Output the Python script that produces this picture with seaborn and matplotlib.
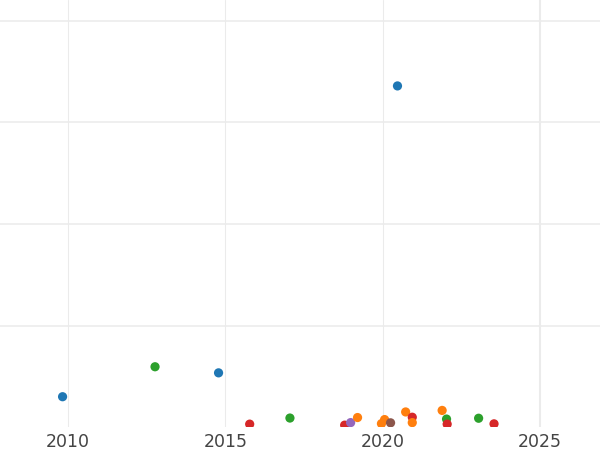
import matplotlib
matplotlib.use('Agg')
import matplotlib.pyplot as plt
import seaborn as sns
import pandas as pd

# Données (année, valeur, groupe)
years = [2009.82, 2012.76, 2014.78, 2020.47, 2015.77, 2017.05, 2018.79, 2018.98,
         2019.20, 2019.96, 2020.06, 2020.25, 2020.73, 2020.94, 2020.94, 2021.89,
         2022.03, 2022.05, 2023.05, 2023.54]
values = [30, 59.5, 53.5, 336, 3, 9, 2, 4.5,
          9.5, 3.5, 7.5, 4.3, 15, 9.8, 4.5, 16.5,
          8, 3, 8.8, 3.3]
groups = ['A', 'C', 'A', 'A', 'D', 'C', 'D', 'E',
          'B', 'B', 'B', 'F', 'B', 'D', 'B', 'B',
          'C', 'D', 'C', 'D']
group_order = ['A', 'B', 'C', 'D', 'E', 'F']
x_ticks = [2010, 2015, 2020, 2025]
y_grid = [100, 200, 300, 400]

df = pd.DataFrame({'year': years, 'value': values, 'group': groups})

sns.set_style('white')
fig = plt.figure(figsize=(6, 4.5), dpi=100)
ax = fig.add_axes([0, 0.0507, 1, 0.9493])

grid_color = '#ebebeb'
for y in y_grid:
    ax.axhline(y, color=grid_color, lw=1.1, zorder=0)
for x in x_ticks[:-1]:
    ax.axvline(x, color=grid_color, lw=0.75, zorder=0)
ax.axvline(x_ticks[-1], color=grid_color, lw=1.5, zorder=0)

sns.scatterplot(data=df, x='year', y='value', hue='group', hue_order=group_order,
                palette='tab10', s=44, linewidth=0, legend=False, ax=ax, zorder=3)

ax.set_xlim(2007.83, 2026.91)
ax.set_ylim(0, 420.6)
ax.set_xticks(x_ticks)
ax.set_xticklabels([str(t) for t in x_ticks])
ax.set_yticks([])
ax.set_xlabel('')
ax.set_ylabel('')
ax.tick_params(axis='x', length=0, pad=4, labelsize=12.5, labelcolor='#444444')
for s in ax.spines.values():
    s.set_visible(False)

fig.savefig('out.png', dpi=100)
